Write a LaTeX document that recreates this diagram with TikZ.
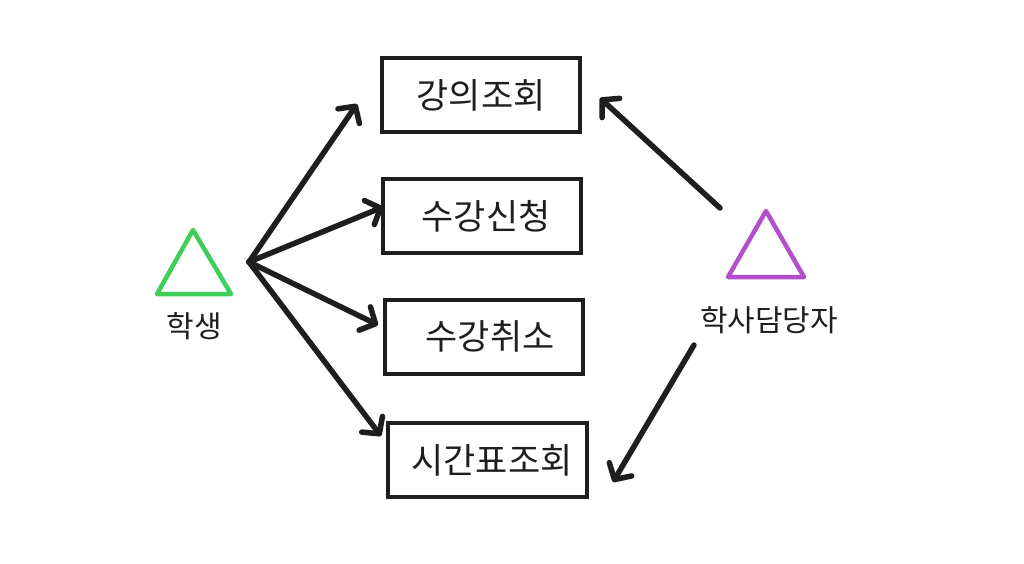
\documentclass[tikz,border=0pt]{standalone}
\usepackage{fontspec}
\setmainfont{Noto Sans CJK KR}
\usetikzlibrary{arrows.meta}
\definecolor{ink}{HTML}{1E1E1E}
\definecolor{stugreen}{HTML}{3ECF5A}
\definecolor{admpurple}{HTML}{B44FCC}
\tikzset{
  usecase/.style={draw=ink, line width=4pt, minimum width=198pt, minimum height=74pt, inner sep=0pt, font=\fontsize{35}{40}\selectfont, text=ink},
  actorlabel/.style={font=\fontsize{30}{34}\selectfont, text=ink, inner sep=0pt},
  conn/.style={draw=ink, line width=5.5pt, line cap=round, line join=round, -{Straight Barb[length=12pt,width=26pt,line cap=round,line join=round]}},
  actor/.style={line width=4.5pt, line join=round, line cap=round}
}
\begin{document}
\begin{tikzpicture}[x=1pt,y=-1pt]
\useasboundingbox[fill=white] (0,0) rectangle (1024,564);
% use case boxes
\node[usecase] (b1) at (481,95) {강의조회};
\node[usecase] (b2) at (482,216) {\hspace*{8pt}수강신청};
\node[usecase] (b3) at (484,336.5) {\hspace*{12pt}수강취소};
\node[usecase, minimum width=199pt] (b4) at (487.5,460) {\hspace*{9pt}시간표조회};
% student actor
\draw[actor, draw=stugreen] (193,230) -- (231,294) -- (157,294) -- cycle;
\node[actorlabel] (stu) at (194,326) {학생};
% admin actor
\draw[actor, draw=admpurple] (766,211) -- (804,277) -- (728,277) -- cycle;
\node[actorlabel] (adm) at (769,320) {학사담당자};
% connector coordinates
\coordinate (so) at (249,262);
\coordinate (t1) at (357,104);
\coordinate (t2) at (383,207);
\coordinate (t3) at (378,325);
\coordinate (t4) at (381,436);
\coordinate (ao1) at (720,208);
\coordinate (at1) at (600,98);
\coordinate (ao2) at (694,345);
\coordinate (at2) at (613,482);
\draw[conn] (so) -- (t1);
\draw[conn] (so) -- (t2);
\draw[conn] (so) -- (t3);
\draw[conn] (so) -- (t4);
\draw[conn] (ao1) -- (at1);
\draw[conn] (ao2) -- (at2);
\end{tikzpicture}
\end{document}
